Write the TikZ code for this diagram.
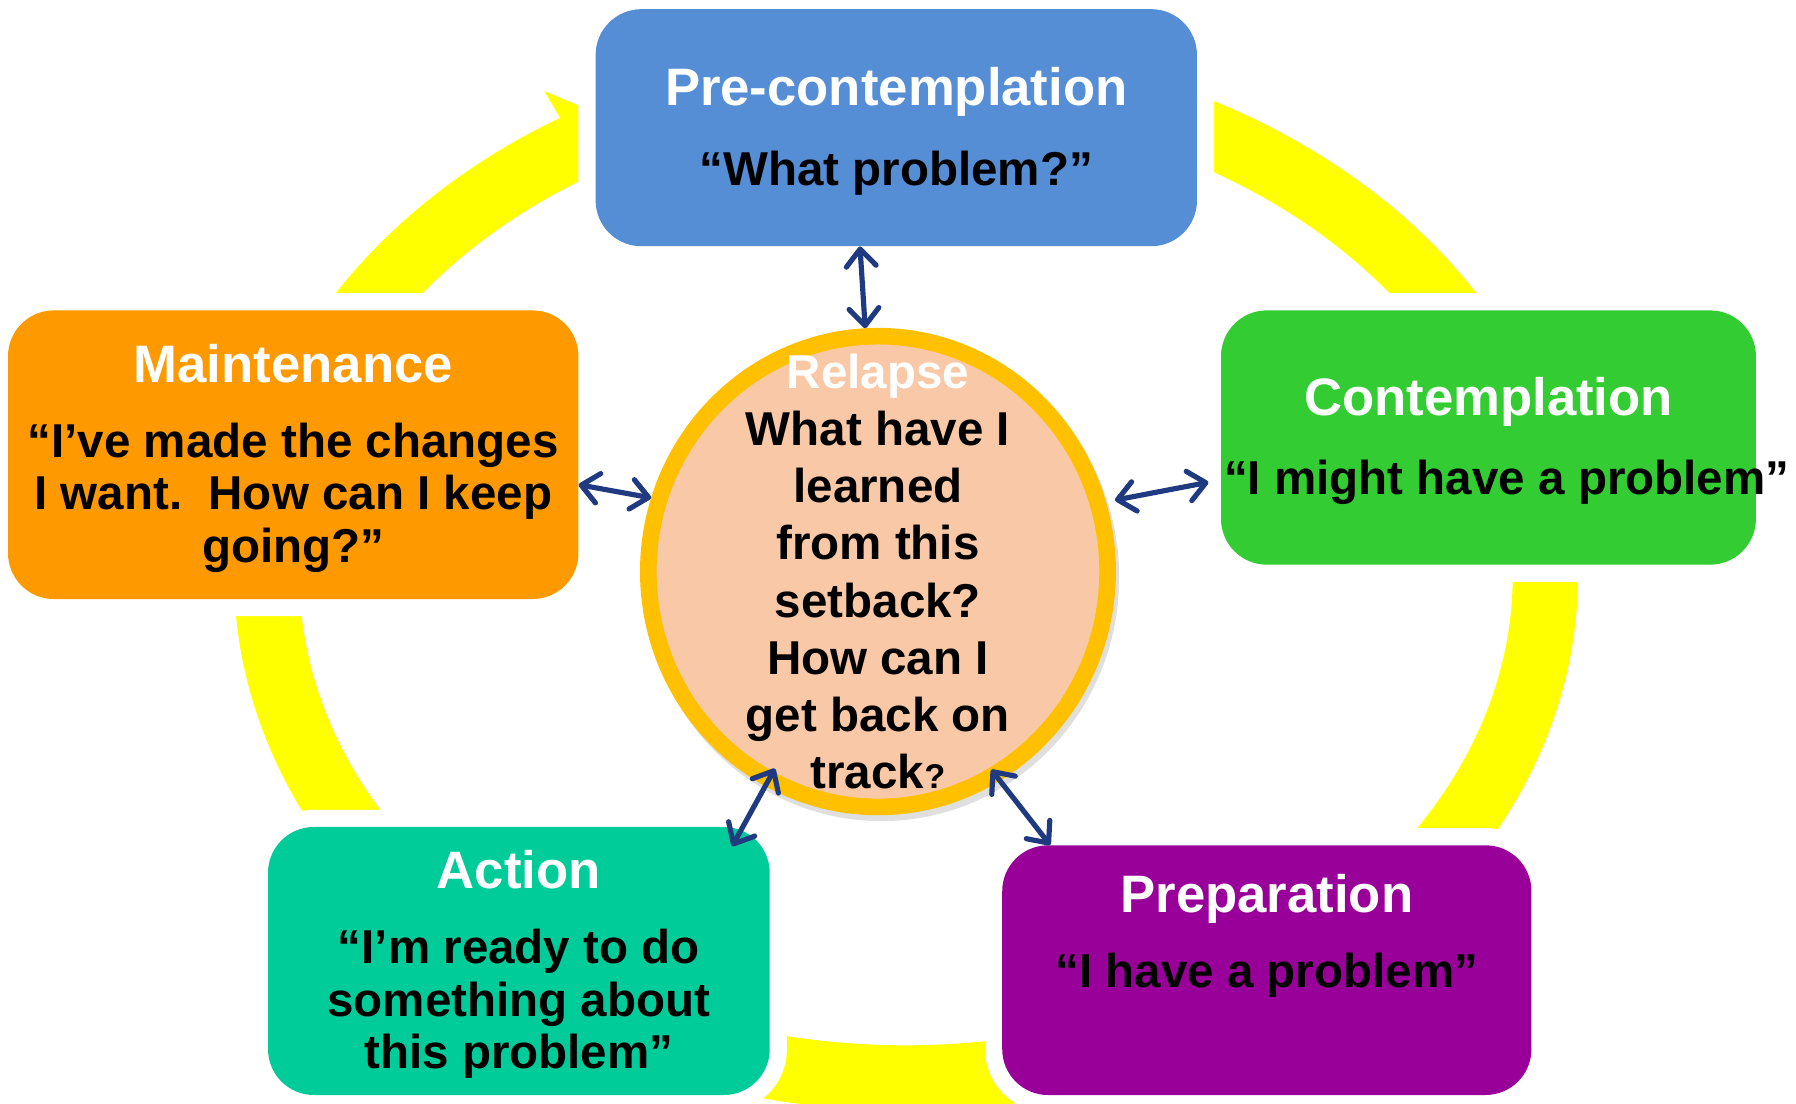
\documentclass[tikz,border=0pt]{standalone}
\usepackage{fontspec}
\setmainfont{Liberation Sans}
\usetikzlibrary{arrows.meta,shapes.geometric,shadows,calc}

\definecolor{precol}{HTML}{558ED5}
\definecolor{contcol}{HTML}{33CC33}
\definecolor{prepcol}{HTML}{990099}
\definecolor{actcol}{HTML}{00CC99}
\definecolor{maintcol}{HTML}{FF9900}
\definecolor{ringyellow}{HTML}{FFFF00}
\definecolor{rimorange}{HTML}{FFC000}
\definecolor{peach}{HTML}{F9C9A7}
\definecolor{linknavy}{HTML}{1F3A80}

\newcommand{\quotefont}{\fontsize{41.5}{46}\selectfont\bfseries}
\newcommand{\stagetitle}[1]{{\fontsize{46}{50}\selectfont\color{white}\rule{0pt}{39.5pt}#1}}

\tikzset{
  stage/.style={rounded corners=40pt, inner sep=0pt, align=center, font=\quotefont,
    preaction={draw=white, line width=30pt}},
  ring/.style={draw=ringyellow, line width=57pt},
  setback/.style={ellipse, draw=rimorange, line width=14.5pt, fill=peach, inner sep=0pt,
    minimum width=401pt, minimum height=411pt,
    drop shadow={shadow xshift=3pt, shadow yshift=-5pt, shadow scale=1.035, opacity=.25}},
  ask/.style={align=center, font=\fontsize{41.5}{50}\selectfont\bfseries},
  twoway/.style={draw=linknavy, line width=4.5pt, <->,
    >={Straight Barb[length=15pt,width=26pt,round]}}
}

\begin{document}
\begin{tikzpicture}[x=1pt, y=1pt]
  \path[use as bounding box, fill=white] (0,0) rectangle (1568,963);

  % the cycle behind the stages
  \begin{scope}[shift={(791,460)}]
    \draw[ring] (105:558 and 438) arc[start angle=105, end angle=-239, x radius=558, y radius=438];
    \fill[ringyellow] (-239:613 and 494) -- (-244:558 and 438) -- (-239:503 and 382) -- cycle;
  \end{scope}

  % stages
  \node[stage, fill=precol, minimum width=525pt, minimum height=207pt] (pre) at (782.5,851.5)
    {\stagetitle{Pre-contemplation}\\[24.5pt]“What problem?”};
  \node[stage, fill=contcol, minimum width=467pt, minimum height=222pt] (cont) at (1299.5,581)
    {\stagetitle{Contemplation}\\[23.5pt]\makebox[0pt]{\hspace{32pt}“I might have a problem”}};
  \node[stage, fill=prepcol, minimum width=462pt, minimum height=218pt] (prep) at (1106,116)
    {\stagetitle{Preparation}\\[19.5pt]“I have a problem”\\[28pt]\mbox{}};
  \node[stage, fill=actcol, minimum width=438pt, minimum height=234pt] (act) at (453,124)
    {\stagetitle{Action}\\[19.5pt]“I’m ready to do\\something about\\this problem”};
  \node[stage, fill=maintcol, minimum width=498pt, minimum height=252pt] (maint) at (256,566)
    {\stagetitle{Maintenance}\\[19.5pt]“I’ve made the changes\\I want.~~How can I keep\\going?”};

  % relapse in the middle
  \node[setback] (relapse) at (766.5,464) {};
  \node[ask] (ask) at (relapse.center)
    {{\color{white}Relapse}\\What have I\\learned\\from this\\setback?\\How can I\\get back on\\track{\fontsize{30}{30}\selectfont ?}};

  % links
  \draw[twoway] (pre.253.6) -- (relapse.93.1);
  \draw[twoway] (maint.-6) -- (relapse.162.3);
  \draw[twoway, shorten <=8pt, shorten >=11pt] (relapse.17.8) -- (cont.189.9);
  \draw[twoway] ($(relapse.center)+(-90,-172)$) -- ($(act.north east)+(-33,-17)$);
  \draw[twoway] ($(relapse.center)+(99,-173)$) -- (prep.150.7);
\end{tikzpicture}
\end{document}
